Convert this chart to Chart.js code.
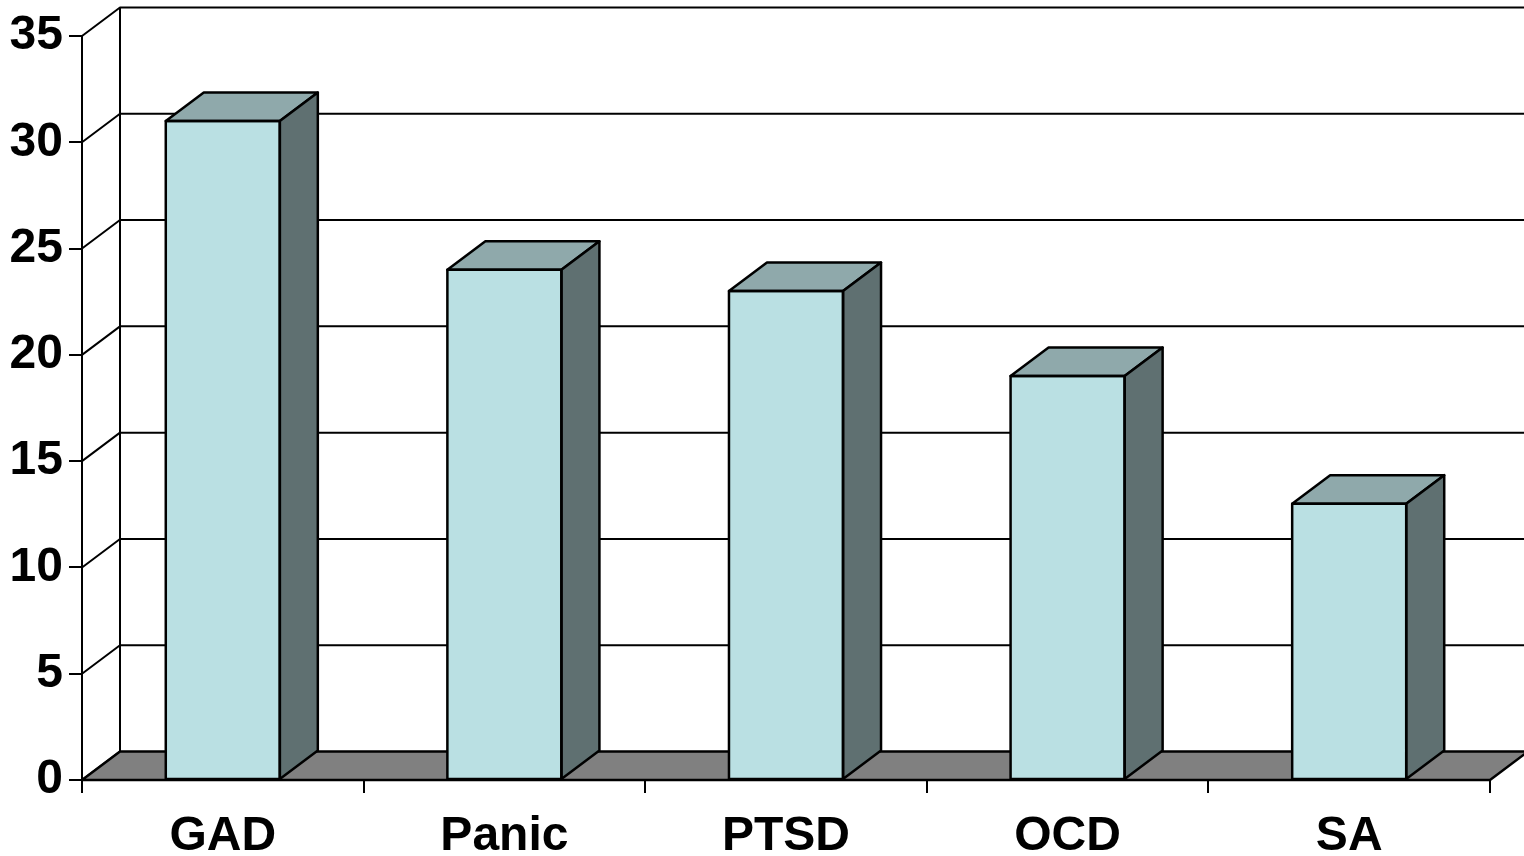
<!DOCTYPE html>
<html>
<head>
<meta charset="utf-8">
<script src="https://cdn.jsdelivr.net/npm/chart.js@4/dist/chart.umd.min.js"></script>
<style>
    html, body { margin: 0; padding: 0; background: #fff; }
    #wrap { width: 1524px; height: 856px; }
</style>
</head>
<body>
<div id="wrap"><canvas id="chart"></canvas></div>
<script>
const categories = ['GAD', 'Panic', 'PTSD', 'OCD', 'SA'];
const prevalence = [31, 24, 23, 19, 13];
const yMin = 0;
const yMax = 35;
const yStep = 5;

// depth of the fake 3D box (floor, walls and bar tops/sides)
const DX = 38;
const DY = 28.5;

const FRONT = '#bae0e3';
const TOP = '#8fa9ab';
const SIDE = '#5f7071';
const FLOOR = '#808080';

const poly = (ctx, pts, fill) => {
    ctx.beginPath();
    ctx.moveTo(pts[0][0], pts[0][1]);
    for (let i = 1; i < pts.length; i++) ctx.lineTo(pts[i][0], pts[i][1]);
    ctx.closePath();
    if (fill) { ctx.fillStyle = fill; ctx.fill(); }
    ctx.stroke();
};

const box3d = {
    id: 'box3d',
    beforeDatasetsDraw(chart) {
        const { ctx, chartArea: a, scales: { y } } = chart;
        const y0 = y.getPixelForValue(yMin);
        const yTop = y.getPixelForValue(yMax);
        ctx.save();
        ctx.strokeStyle = '#000';
        ctx.lineJoin = 'round';

        // back wall gridlines + diagonals on the left wall
        ctx.lineWidth = 2;
        y.ticks.forEach(t => {
            const py = y.getPixelForValue(t.value);
            ctx.beginPath();
            ctx.moveTo(a.left, py);
            ctx.lineTo(a.left + DX, py - DY);
            if (t.value > yMin) ctx.lineTo(a.right + DX + 10, py - DY);
            ctx.stroke();
        });

        // back edge of left wall
        ctx.beginPath();
        ctx.moveTo(a.left + DX, y0 - DY);
        ctx.lineTo(a.left + DX, yTop - DY);
        ctx.stroke();

        // floor
        ctx.lineWidth = 2.5;
        poly(ctx, [[a.left, y0], [a.right, y0], [a.right + DX, y0 - DY], [a.left + DX, y0 - DY]], FLOOR);
        ctx.restore();
    },
    afterDatasetsDraw(chart) {
        const { ctx } = chart;
        const meta = chart.getDatasetMeta(0);
        ctx.save();
        ctx.strokeStyle = '#000';
        ctx.lineWidth = 2.5;
        ctx.lineJoin = 'round';
        meta.data.forEach(bar => {
            const { x, y, width, base } = bar.getProps(['x', 'y', 'width', 'base'], true);
            const l = x - width / 2;
            const r = x + width / 2;
            poly(ctx, [[l, y], [r, y], [r + DX, y - DY], [l + DX, y - DY]], TOP);
            poly(ctx, [[r, y], [r + DX, y - DY], [r + DX, base - DY], [r, base]], SIDE);
            ctx.strokeRect(l, y, width, base - y);
        });
        ctx.restore();
    }
};

const labelFont = { family: "'Liberation Sans', Arial, sans-serif", size: 48, weight: 'bold' };

new Chart(document.getElementById('chart'), {
    type: 'bar',
    data: {
        labels: categories,
        datasets: [{
            data: prevalence,
            backgroundColor: FRONT,
            borderWidth: 0,
            categoryPercentage: 1,
            barPercentage: 0.405
        }]
    },
    options: {
        responsive: true,
        maintainAspectRatio: false,
        animation: false,
        layout: { padding: { top: 36, right: 34, left: 0, bottom: 0 } },
        plugins: {
            legend: { display: false },
            tooltip: { enabled: false }
        },
        scales: {
            x: {
                afterFit: s => { s.height = 76; },
                grid: { offset: true, drawOnChartArea: false, drawTicks: true, tickLength: 13, color: '#000', lineWidth: 2 },
                border: { display: true, color: '#000', width: 2 },
                ticks: { color: '#000', font: labelFont, padding: 15, maxRotation: 0 }
            },
            y: {
                min: yMin,
                max: yMax,
                afterFit: s => { s.width = 82; },
                grid: { drawOnChartArea: false, drawTicks: true, tickLength: 13, color: '#000', lineWidth: 2 },
                border: { display: true, color: '#000', width: 2 },
                ticks: { stepSize: yStep, color: '#000', font: labelFont, padding: 6 }
            }
        }
    },
    plugins: [box3d]
});
</script>
</body>
</html>
